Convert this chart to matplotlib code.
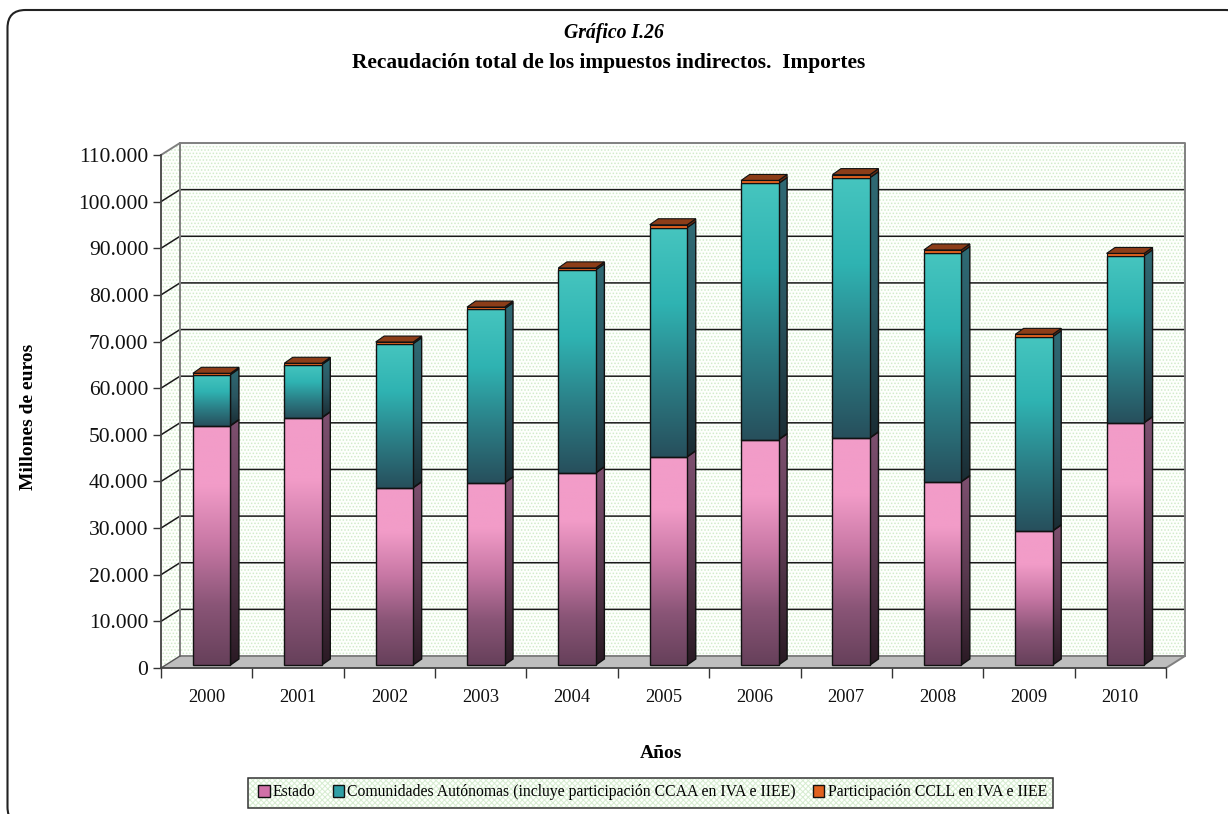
import numpy as np
import matplotlib
matplotlib.use("Agg")
import matplotlib.pyplot as plt
from matplotlib.colors import LinearSegmentedColormap
from matplotlib.patches import FancyBboxPatch, Patch, Polygon, Rectangle

plt.rcParams['font.family'] = ['Liberation Serif', 'DejaVu Serif']
plt.rcParams['hatch.linewidth'] = 0.7

# datos (millones de euros)
anios = ['2000', '2001', '2002', '2003', '2004', '2005', '2006', '2007', '2008', '2009', '2010']
estado = [51300, 53000, 38000, 39050, 41200, 44650, 48300, 48700, 39300, 28750, 51950]
ccaa = [10950, 11400, 30900, 37350, 43550, 49150, 54950, 55800, 49150, 41650, 35800]
ccll = [300, 300, 350, 350, 400, 600, 650, 650, 550, 500, 500]
y_ticks = list(range(0, 110001, 10000))
y_labels = ['0', '10.000', '20.000', '30.000', '40.000', '50.000', '60.000',
            '70.000', '80.000', '90.000', '100.000', '110.000']
leyenda = ['Estado', 'Comunidades Autónomas (incluye participación CCAA en IVA e IIEE)',
           'Participación CCLL en IVA e IIEE']

W, H = 1228, 814
fig = plt.figure(figsize=(W / 100, H / 100), dpi=100, facecolor='white')

# marco redondeado en coordenadas de pixel (se sale por la derecha y por abajo)
fondo = fig.add_axes([0, 0, 1, 1])
fondo.set_xlim(0, W)
fondo.set_ylim(H, 0)
fondo.axis('off')
fondo.add_patch(FancyBboxPatch((7.5, 10), 1236, 815, boxstyle='round,pad=0,rounding_size=18',
                               fc='white', ec='#222222', lw=1.5))

# eje principal: plano frontal del grafico
x0, x1, y0, y1 = 161, 1166, 668, 155
ax = fig.add_axes([x0 / W, (H - y0) / H, (x1 - x0) / W, (y0 - y1) / H])
ax.patch.set_alpha(0)
px = 11 / (x1 - x0)        # unidades de x por pixel
py = 110000 / (y0 - y1)    # unidades de y por pixel


def gradiente(verts, colores, z):
    cmap = LinearSegmentedColormap.from_list('g', colores)
    verts = np.array(verts)
    pol = Polygon(verts, closed=True, fc='none', ec='#111111', lw=1.0, zorder=z + 0.1, clip_on=False)
    ax.add_patch(pol)
    img = ax.imshow(np.linspace(0, 1, 256).reshape(-1, 1), cmap=cmap, aspect='auto', zorder=z,
                    origin='lower',
                    extent=(verts[:, 0].min(), verts[:, 0].max(), verts[:, 1].min(), verts[:, 1].max()))
    img.set_clip_path(pol)


# paredes
fx, fy = 19 * px, 12 * py
pared = dict(fc='#FDFFFC', ec='#D2EBCB', hatch='.....', lw=0, zorder=1, clip_on=False)
ax.add_patch(Polygon([(-0.5 + fx, fy), (10.5 + fx, fy), (10.5 + fx, 110000 + fy), (-0.5 + fx, 110000 + fy)], **pared))
ax.add_patch(Polygon([(-0.5, 0), (-0.5 + fx, fy), (-0.5 + fx, 110000 + fy), (-0.5, 110000)], **pared))
ax.add_patch(Polygon([(-0.5, 0), (10.5, 0), (10.5 + fx, fy), (-0.5 + fx, fy)],
                     fc='#BEBEBE', ec='none', zorder=1.2, clip_on=False))

for v in y_ticks[1:-1]:
    ax.plot([-0.5, -0.5 + fx, 10.5 + fx], [v, v + fy, v + fy], color='#1a1a1a', lw=1.1, zorder=1.5, clip_on=False)
ax.plot([-0.5, -0.5 + fx, 10.5 + fx, 10.5 + fx, 10.5], [110000, 110000 + fy, 110000 + fy, fy, 0],
        color='#808080', lw=1.4, zorder=1.5, clip_on=False)
ax.plot([-0.5 + fx, -0.5 + fx, 10.5 + fx], [110000 + fy, fy, fy], color='#808080', lw=1.4, zorder=1.5, clip_on=False)
ax.plot([-0.5, -0.5 + fx], [0, fy], color='#555555', lw=1, zorder=1.5, clip_on=False)

# barras apiladas con profundidad
ancho = 37.5 * px
desp_x, desp_y = 5 * px, 3 * py
prof_x, prof_y = 8.5 * px, 6 * py
col_estado = ['#66405A', '#8A5577', '#C777A4', '#F29CC8', '#F29CC8']
col_ccaa = ['#274F5C', '#2B7E86', '#2FB3B2', '#46C5BF']
lat_estado = ['#2A1A24', '#5A3A50', '#7E5070']
lat_ccaa = ['#1A2C33', '#2A5560', '#2F6A74']

for i in range(len(anios)):
    z = 3 + i
    xa = i + desp_x - ancho / 2
    xb = xa + ancho
    c1 = estado[i] + desp_y
    c2 = c1 + ccaa[i]
    c3 = c2 + ccll[i]
    gradiente([(xb, desp_y), (xb + prof_x, desp_y + prof_y), (xb + prof_x, c1 + prof_y), (xb, c1)], lat_estado, z)
    gradiente([(xb, c1), (xb + prof_x, c1 + prof_y), (xb + prof_x, c2 + prof_y), (xb, c2)], lat_ccaa, z)
    ax.add_patch(Polygon([(xb, c2), (xb + prof_x, c2 + prof_y), (xb + prof_x, c3 + prof_y), (xb, c3)],
                         fc='#6A2C12', ec='#111111', lw=0.8, zorder=z + 0.2, clip_on=False))
    ax.add_patch(Polygon([(xa, c3), (xb, c3), (xb + prof_x, c3 + prof_y), (xa + prof_x, c3 + prof_y)],
                         fc='#8C3D18', ec='#111111', lw=0.8, zorder=z + 0.2, clip_on=False))
    gradiente([(xa, desp_y), (xb, desp_y), (xb, c1), (xa, c1)], col_estado, z + 0.3)
    gradiente([(xa, c1), (xb, c1), (xb, c2), (xa, c2)], col_ccaa, z + 0.3)
    ax.bar(i + desp_x, ccll[i], ancho, bottom=c2, color='#E0611F', ec='#111111', lw=0.8, zorder=z + 0.5)

ax.set_xlim(-0.5, 10.5)
ax.set_ylim(0, 110000)
ax.set_yticks(y_ticks)
ax.set_yticklabels(y_labels, fontsize=15.5, color='#111111')
ax.set_xticks(np.arange(-0.5, 11))
ax.set_xticklabels([])
ax.set_xticks(np.arange(11), anios, minor=True, fontsize=13.3, color='#111111')
ax.tick_params(axis='x', which='minor', length=0, pad=15)
ax.tick_params(axis='x', which='major', length=7, width=1, color='#333333')
ax.tick_params(axis='y', length=6, width=1, color='#333333', pad=3)
for lado in ['top', 'right']:
    ax.spines[lado].set_visible(False)
for lado in ['left', 'bottom']:
    ax.spines[lado].set_color('#444444')
    ax.spines[lado].set_linewidth(1.3)
    ax.spines[lado].set_zorder(20)

# textos
fondo.text(614, 33, 'Gráfico I.26', ha='center', va='center', fontsize=14.2, style='italic', weight='bold')
fondo.text(609, 63, 'Recaudación total de los impuestos indirectos.  Importes', ha='center', va='center',
           fontsize=15.4, weight='bold')
fondo.text(29, 417, 'Millones de euros', rotation=90, ha='center', va='center', fontsize=14, weight='bold')
fondo.text(661, 754, 'Años', ha='center', va='center', fontsize=14, weight='bold')

# leyenda: fondo tramado aparte porque el hatch toma el color del borde
fondo.add_patch(Rectangle((248, 778), 805, 30, fc='#FDFFFC', ec='#D6ECD0', hatch='xxxxxx', lw=0, zorder=2))
fondo.add_patch(Rectangle((248, 778), 805, 30, fc='none', ec='#333333', lw=1.1, zorder=2.1))
handles = [Patch(fc='#D070A8', ec='#111111', label=leyenda[0]),
           Patch(fc='#2F9FA5', ec='#111111', label=leyenda[1]),
           Patch(fc='#E0611F', ec='#111111', label=leyenda[2])]
leg = fondo.legend(handles=handles, ncol=3, loc='center', bbox_to_anchor=(652.5 / W, 1 - 792.5 / H),
                   bbox_transform=fig.transFigure, fontsize=11.3, frameon=False,
                   handlelength=0.72, handleheight=0.72, handletextpad=0.2, columnspacing=1.1,
                   borderpad=0, borderaxespad=0)
leg.set_zorder(3)

fig.savefig('out.png', dpi=100)
